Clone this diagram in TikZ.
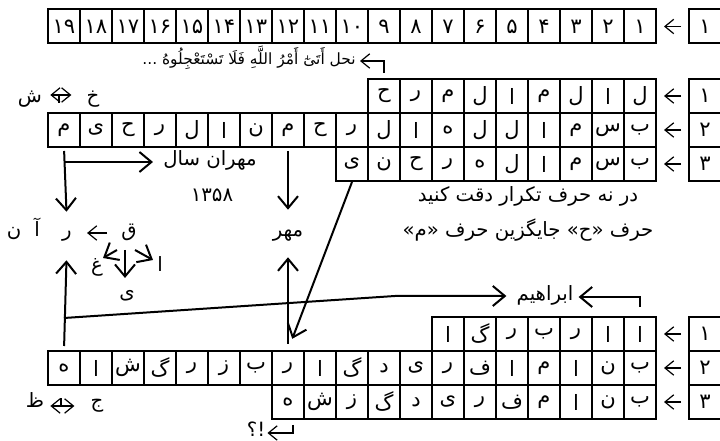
\documentclass[tikz,border=0pt]{standalone}
\usepackage{fontspec}
\usepackage{tikz}
\usetikzlibrary{arrows.meta}
\TeXXeTstate=1
\newfontfamily\arabicfont[Script=Arabic]{DejaVu Sans}
\newcommand{\fa}[1]{\beginR#1\endR}

\tikzset{
  cell/.style = {draw, line width=0.5mm, minimum width=8mm, minimum height=8.5mm, inner sep=0pt, font=\arabicfont\fontsize{15}{17}\selectfont},
  lbl/.style = {inner sep=0pt, text height=3mm, text depth=1mm},
  link/.style = {line width=0.5mm, >={Straight Barb[length=3mm,width=5mm]}},
  smallarrow/.style = {line width=0.3mm, >={Straight Barb[length=2.2mm,width=3.6mm]}},
}

\begin{document}
\begin{tikzpicture}[x=0.25mm, y=-0.25mm, every node/.style={font=\arabicfont\fontsize{14}{16}\selectfont}]
\useasboundingbox (0,0) rectangle (720,441);

% top row
\foreach \n [count=\i] in {۱,۲,۳,۴,۵,۶,۷,۸,۹,۱۰,۱۱,۱۲,۱۳,۱۴,۱۵,۱۶,۱۷,۱۸,۱۹}
  \node[cell] (top-\i) at ({672-32*\i}, 26.5) {\n};
\node[cell] (num-0) at (705, 26.5) {۱};
\draw[smallarrow, ->, shorten <=1.75mm, shorten >=1.75mm] (num-0.west) -- (top-1.east);

\node[lbl, anchor=east, font=\arabicfont\fontsize{11}{13}\selectfont] (quran) at (356, 61) {\fa{نحل أَتَىٰٓ أَمْرُ اللَّهِ فَلَا تَسْتَعْجِلُوهُ ...}};
\coordinate (quranhook) at (384, 73);
\draw[smallarrow, ->, shorten >=1mm] (quranhook) |- (quran.east);

% block 1
\foreach \l [count=\i] in {ل,ا,ل,م,ا,ل,م,ر,ح}
  \node[cell] (b1-\i) at ({672-32*\i}, 96) {\fa{\l}};
\foreach \l [count=\i] in {ب,س,م,ا,ل,ل,ه,ا,ل,ر,ح,م,ن,ا,ل,ر,ح,ی,م}
  \node[cell] (b2-\i) at ({672-32*\i}, 130) {\fa{\l}};
\foreach \l [count=\i] in {ب,س,م,ا,ل,ه,ر,ح,ن,ی}
  \node[cell] (b3-\i) at ({672-32*\i}, 164) {\fa{\l}};
\foreach \n [count=\i] in {۱,۲,۳} {
  \node[cell] (numb-\i) at (705, {62+34*\i}) {\n};
  \draw[smallarrow, ->, shorten <=1.75mm, shorten >=1.75mm] (numb-\i.west) -- (b\i-1.east);
}

\node[lbl] (shin) at (30, 99) {\fa{ش}};
\node[lbl] (khe) at (93, 99) {\fa{خ}};
\coordinate (swaptop) at (59, 95);
\draw[smallarrow, <->, shorten <=2mm, shorten >=3.75mm] (shin.east |- swaptop) -- (khe.west |- swaptop);
\draw[smallarrow] (swaptop) -- ++(0, 8);

\node[lbl] (mehran) at (210, 162) {\fa{مهران سال}};
\node[lbl] (year) at (212, 198) {۱۳۵۸};
\node[lbl] (note1) at (528, 198) {\fa{در نه حرف تکرار دقت کنید}};
\node[lbl] (note2) at (528, 233) {\fa{حرف «ح» جایگزین حرف «م»}};

\node[lbl] (nun) at (14, 233) {\fa{ن}};
\node[lbl] (alefm) at (37, 233) {\fa{آ}};
\node[lbl] (ra) at (67, 233) {\fa{ر}};
\node[lbl] (qaf) at (129, 233) {\fa{ق}};
\node[lbl] (mehr) at (288, 233) {\fa{مهر}};
\node[lbl] (ghein) at (97, 268) {\fa{غ}};
\node[lbl] (alef) at (160, 268) {\fa{ا}};
\node[lbl] (ye) at (127, 295) {\fa{ی}};
\node[lbl] (ebrahim) at (545, 297) {\fa{ابراهیم}};

\draw[link, ->, shorten <=0.75mm, shorten >=3.25mm] (b2-19.south) -- (ra.north);
\draw[link, ->, shorten >=2.5mm] (b2-19 |- mehran) -- (mehran.west);
\draw[link, ->, shorten <=0.75mm, shorten >=3.75mm] (b2-12.south) -- (mehr.north);
\draw[smallarrow, ->, shorten <=3.5mm, shorten >=3.75mm] (qaf.west) -- (ra.east);
\draw[link, ->] ([shift={(-12,17)}]qaf.center) -- ([shift={(6,-10)}]ghein.center);
\draw[link, ->] ([shift={(-4,17)}]qaf.center) -- ([shift={(-2,-17)}]ye.center);
\draw[link, ->] ([shift={(6,17)}]qaf.center) -- ([shift={(-7,-8)}]alef.center);

% block 2
\foreach \l [count=\i] in {ا,ا,ر,ب,ر,گ,ا}
  \node[cell] (c1-\i) at ({672-32*\i}, 334) {\fa{\l}};
\foreach \l [count=\i] in {ب,ن,ا,م,ا,ف,ر,ی,د,گ,ا,ر,ب,ز,ر,گ,ش,ا,ه}
  \node[cell] (c2-\i) at ({672-32*\i}, 368) {\fa{\l}};
\foreach \l [count=\i] in {ب,ن,ا,م,ف,ر,ی,د,گ,ز,ش,ه}
  \node[cell] (c3-\i) at ({672-32*\i}, 402) {\fa{\l}};
\foreach \n [count=\i] in {۱,۲,۳} {
  \node[cell] (numc-\i) at (705, {300+34*\i}) {\n};
  \draw[smallarrow, ->, shorten <=1.75mm, shorten >=1.75mm] (numc-\i.west) -- (c\i-1.east);
}

\draw[link, ->, shorten <=1.5mm, shorten >=4mm] (c2-12.north) -- (mehr.south);
\draw[link, ->, shorten >=3mm] (b3-10.south) -- (c2-12.north);
\draw[link, ->, shorten <=1mm, shorten >=4.75mm] (c2-19.north) -- (ra.south);
\coordinate (fork) at (64, 318);
\coordinate (knee) at (395, 296);
\draw[link, ->, shorten >=2.5mm] (fork) -- (knee) -- (knee -| ebrahim.west);
\draw[link, ->, shorten <=2.25mm, shorten >=1.25mm] (c1-1.north) |- (ebrahim.east);

\node[lbl] (zaa) at (35, 404) {\fa{ظ}};
\node[lbl] (jim) at (97, 404) {\fa{ج}};
\coordinate (swapbot) at (61, 406);
\draw[smallarrow, <->, shorten <=1.5mm, shorten >=4mm] (zaa.east |- swapbot) -- (jim.west |- swapbot);
\draw[smallarrow] (swapbot) -- ++(0, -8);

\node[lbl] (query) at (256, 433) {\fa{!؟}};
\coordinate (queryhook) at (293, 425);
\draw[smallarrow, ->, shorten >=0.5mm] (queryhook) |- (query.east);
\end{tikzpicture}
\end{document}
